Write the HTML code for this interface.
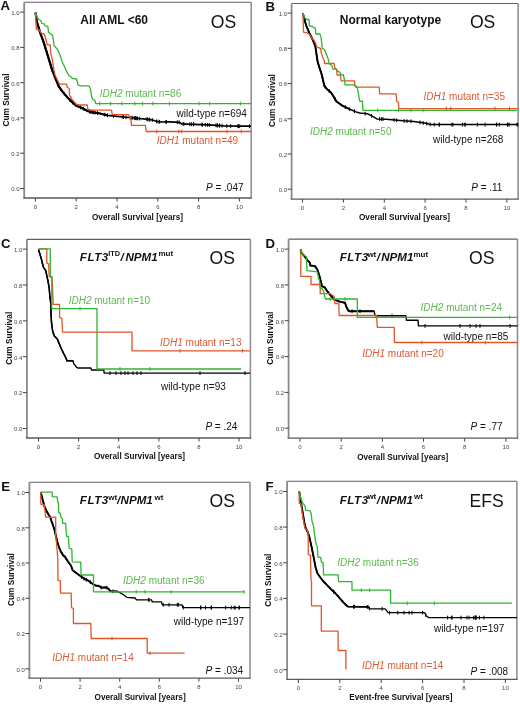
<!DOCTYPE html>
<html><head><meta charset="utf-8"><style>
html,body{margin:0;padding:0;background:#fff;}
svg{display:block;filter:blur(0.3px);font-family:"Liberation Sans",sans-serif;}
</style></head><body>
<svg width="520" height="704" viewBox="0 0 520 704">
<rect width="520" height="704" fill="#fff"/>
<line x1="24.2" y1="2.2" x2="251.2" y2="2.2" stroke="#606060" stroke-width="1.1"/>
<line x1="251.2" y1="2.2" x2="251.2" y2="198.0" stroke="#8a8a8a" stroke-width="1.5"/>
<line x1="24.2" y1="2.2" x2="24.2" y2="198.0" stroke="#8a8a8a" stroke-width="1.8"/>
<line x1="23.3" y1="198.0" x2="251.9" y2="198.0" stroke="#5a5a5a" stroke-width="1.3"/>
<line x1="20.2" y1="188.5" x2="24.2" y2="188.5" stroke="#444" stroke-width="1"/>
<text x="19.7" y="191.3" font-size="6" fill="#444" text-anchor="end">0.0</text>
<line x1="20.2" y1="153.2" x2="24.2" y2="153.2" stroke="#444" stroke-width="1"/>
<text x="19.7" y="156.0" font-size="6" fill="#444" text-anchor="end">0.2</text>
<line x1="20.2" y1="117.9" x2="24.2" y2="117.9" stroke="#444" stroke-width="1"/>
<text x="19.7" y="120.7" font-size="6" fill="#444" text-anchor="end">0.4</text>
<line x1="20.2" y1="82.7" x2="24.2" y2="82.7" stroke="#444" stroke-width="1"/>
<text x="19.7" y="85.5" font-size="6" fill="#444" text-anchor="end">0.6</text>
<line x1="20.2" y1="47.4" x2="24.2" y2="47.4" stroke="#444" stroke-width="1"/>
<text x="19.7" y="50.2" font-size="6" fill="#444" text-anchor="end">0.8</text>
<line x1="20.2" y1="12.1" x2="24.2" y2="12.1" stroke="#444" stroke-width="1"/>
<text x="19.7" y="14.9" font-size="6" fill="#444" text-anchor="end">1.0</text>
<line x1="35.4" y1="198.0" x2="35.4" y2="201.5" stroke="#444" stroke-width="1"/>
<text x="35.4" y="208.5" font-size="6" fill="#444" text-anchor="middle">0</text>
<line x1="76.2" y1="198.0" x2="76.2" y2="201.5" stroke="#444" stroke-width="1"/>
<text x="76.2" y="208.5" font-size="6" fill="#444" text-anchor="middle">2</text>
<line x1="117.0" y1="198.0" x2="117.0" y2="201.5" stroke="#444" stroke-width="1"/>
<text x="117.0" y="208.5" font-size="6" fill="#444" text-anchor="middle">4</text>
<line x1="157.8" y1="198.0" x2="157.8" y2="201.5" stroke="#444" stroke-width="1"/>
<text x="157.8" y="208.5" font-size="6" fill="#444" text-anchor="middle">6</text>
<line x1="198.6" y1="198.0" x2="198.6" y2="201.5" stroke="#444" stroke-width="1"/>
<text x="198.6" y="208.5" font-size="6" fill="#444" text-anchor="middle">8</text>
<line x1="239.4" y1="198.0" x2="239.4" y2="201.5" stroke="#444" stroke-width="1"/>
<text x="239.4" y="208.5" font-size="6" fill="#444" text-anchor="middle">10</text>
<line x1="291.6" y1="3.5" x2="518.1" y2="3.5" stroke="#606060" stroke-width="1.1"/>
<line x1="518.1" y1="3.5" x2="518.1" y2="199.1" stroke="#8a8a8a" stroke-width="1.5"/>
<line x1="291.6" y1="3.5" x2="291.6" y2="199.1" stroke="#8a8a8a" stroke-width="1.8"/>
<line x1="290.7" y1="199.1" x2="518.9" y2="199.1" stroke="#5a5a5a" stroke-width="1.3"/>
<line x1="287.6" y1="189.2" x2="291.6" y2="189.2" stroke="#444" stroke-width="1"/>
<text x="287.1" y="192.0" font-size="6" fill="#444" text-anchor="end">0.0</text>
<line x1="287.6" y1="154.0" x2="291.6" y2="154.0" stroke="#444" stroke-width="1"/>
<text x="287.1" y="156.8" font-size="6" fill="#444" text-anchor="end">0.2</text>
<line x1="287.6" y1="118.8" x2="291.6" y2="118.8" stroke="#444" stroke-width="1"/>
<text x="287.1" y="121.6" font-size="6" fill="#444" text-anchor="end">0.4</text>
<line x1="287.6" y1="83.5" x2="291.6" y2="83.5" stroke="#444" stroke-width="1"/>
<text x="287.1" y="86.3" font-size="6" fill="#444" text-anchor="end">0.6</text>
<line x1="287.6" y1="48.3" x2="291.6" y2="48.3" stroke="#444" stroke-width="1"/>
<text x="287.1" y="51.1" font-size="6" fill="#444" text-anchor="end">0.8</text>
<line x1="287.6" y1="13.1" x2="291.6" y2="13.1" stroke="#444" stroke-width="1"/>
<text x="287.1" y="15.9" font-size="6" fill="#444" text-anchor="end">1.0</text>
<line x1="302.5" y1="199.1" x2="302.5" y2="202.6" stroke="#444" stroke-width="1"/>
<text x="302.5" y="209.6" font-size="6" fill="#444" text-anchor="middle">0</text>
<line x1="343.4" y1="199.1" x2="343.4" y2="202.6" stroke="#444" stroke-width="1"/>
<text x="343.4" y="209.6" font-size="6" fill="#444" text-anchor="middle">2</text>
<line x1="384.3" y1="199.1" x2="384.3" y2="202.6" stroke="#444" stroke-width="1"/>
<text x="384.3" y="209.6" font-size="6" fill="#444" text-anchor="middle">4</text>
<line x1="425.1" y1="199.1" x2="425.1" y2="202.6" stroke="#444" stroke-width="1"/>
<text x="425.1" y="209.6" font-size="6" fill="#444" text-anchor="middle">6</text>
<line x1="466.0" y1="199.1" x2="466.0" y2="202.6" stroke="#444" stroke-width="1"/>
<text x="466.0" y="209.6" font-size="6" fill="#444" text-anchor="middle">8</text>
<line x1="506.9" y1="199.1" x2="506.9" y2="202.6" stroke="#444" stroke-width="1"/>
<text x="506.9" y="209.6" font-size="6" fill="#444" text-anchor="middle">10</text>
<line x1="26.9" y1="239.4" x2="250.4" y2="239.4" stroke="#606060" stroke-width="1.1"/>
<line x1="250.4" y1="239.4" x2="250.4" y2="438.0" stroke="#8a8a8a" stroke-width="1.5"/>
<line x1="26.9" y1="239.4" x2="26.9" y2="438.0" stroke="#8a8a8a" stroke-width="1.8"/>
<line x1="26.0" y1="438.0" x2="251.2" y2="438.0" stroke="#5a5a5a" stroke-width="1.3"/>
<line x1="22.9" y1="428.5" x2="26.9" y2="428.5" stroke="#444" stroke-width="1"/>
<text x="22.4" y="431.3" font-size="6" fill="#444" text-anchor="end">0.0</text>
<line x1="22.9" y1="392.6" x2="26.9" y2="392.6" stroke="#444" stroke-width="1"/>
<text x="22.4" y="395.4" font-size="6" fill="#444" text-anchor="end">0.2</text>
<line x1="22.9" y1="356.7" x2="26.9" y2="356.7" stroke="#444" stroke-width="1"/>
<text x="22.4" y="359.5" font-size="6" fill="#444" text-anchor="end">0.4</text>
<line x1="22.9" y1="320.9" x2="26.9" y2="320.9" stroke="#444" stroke-width="1"/>
<text x="22.4" y="323.7" font-size="6" fill="#444" text-anchor="end">0.6</text>
<line x1="22.9" y1="285.0" x2="26.9" y2="285.0" stroke="#444" stroke-width="1"/>
<text x="22.4" y="287.8" font-size="6" fill="#444" text-anchor="end">0.8</text>
<line x1="22.9" y1="249.1" x2="26.9" y2="249.1" stroke="#444" stroke-width="1"/>
<text x="22.4" y="251.9" font-size="6" fill="#444" text-anchor="end">1.0</text>
<line x1="38.5" y1="438.0" x2="38.5" y2="441.5" stroke="#444" stroke-width="1"/>
<text x="38.5" y="448.5" font-size="6" fill="#444" text-anchor="middle">0</text>
<line x1="78.6" y1="438.0" x2="78.6" y2="441.5" stroke="#444" stroke-width="1"/>
<text x="78.6" y="448.5" font-size="6" fill="#444" text-anchor="middle">2</text>
<line x1="118.7" y1="438.0" x2="118.7" y2="441.5" stroke="#444" stroke-width="1"/>
<text x="118.7" y="448.5" font-size="6" fill="#444" text-anchor="middle">4</text>
<line x1="158.9" y1="438.0" x2="158.9" y2="441.5" stroke="#444" stroke-width="1"/>
<text x="158.9" y="448.5" font-size="6" fill="#444" text-anchor="middle">6</text>
<line x1="199.0" y1="438.0" x2="199.0" y2="441.5" stroke="#444" stroke-width="1"/>
<text x="199.0" y="448.5" font-size="6" fill="#444" text-anchor="middle">8</text>
<line x1="239.1" y1="438.0" x2="239.1" y2="441.5" stroke="#444" stroke-width="1"/>
<text x="239.1" y="448.5" font-size="6" fill="#444" text-anchor="middle">10</text>
<line x1="288.6" y1="239.1" x2="517.5" y2="239.1" stroke="#606060" stroke-width="1.1"/>
<line x1="517.5" y1="239.1" x2="517.5" y2="438.2" stroke="#8a8a8a" stroke-width="1.5"/>
<line x1="288.6" y1="239.1" x2="288.6" y2="438.2" stroke="#8a8a8a" stroke-width="1.8"/>
<line x1="287.7" y1="438.2" x2="518.2" y2="438.2" stroke="#5a5a5a" stroke-width="1.3"/>
<line x1="284.6" y1="428.2" x2="288.6" y2="428.2" stroke="#444" stroke-width="1"/>
<text x="284.1" y="431.0" font-size="6" fill="#444" text-anchor="end">0.0</text>
<line x1="284.6" y1="392.4" x2="288.6" y2="392.4" stroke="#444" stroke-width="1"/>
<text x="284.1" y="395.2" font-size="6" fill="#444" text-anchor="end">0.2</text>
<line x1="284.6" y1="356.6" x2="288.6" y2="356.6" stroke="#444" stroke-width="1"/>
<text x="284.1" y="359.4" font-size="6" fill="#444" text-anchor="end">0.4</text>
<line x1="284.6" y1="320.7" x2="288.6" y2="320.7" stroke="#444" stroke-width="1"/>
<text x="284.1" y="323.5" font-size="6" fill="#444" text-anchor="end">0.6</text>
<line x1="284.6" y1="284.9" x2="288.6" y2="284.9" stroke="#444" stroke-width="1"/>
<text x="284.1" y="287.7" font-size="6" fill="#444" text-anchor="end">0.8</text>
<line x1="284.6" y1="249.1" x2="288.6" y2="249.1" stroke="#444" stroke-width="1"/>
<text x="284.1" y="251.9" font-size="6" fill="#444" text-anchor="end">1.0</text>
<line x1="300.0" y1="438.2" x2="300.0" y2="441.7" stroke="#444" stroke-width="1"/>
<text x="300.0" y="448.7" font-size="6" fill="#444" text-anchor="middle">0</text>
<line x1="341.2" y1="438.2" x2="341.2" y2="441.7" stroke="#444" stroke-width="1"/>
<text x="341.2" y="448.7" font-size="6" fill="#444" text-anchor="middle">2</text>
<line x1="382.4" y1="438.2" x2="382.4" y2="441.7" stroke="#444" stroke-width="1"/>
<text x="382.4" y="448.7" font-size="6" fill="#444" text-anchor="middle">4</text>
<line x1="423.5" y1="438.2" x2="423.5" y2="441.7" stroke="#444" stroke-width="1"/>
<text x="423.5" y="448.7" font-size="6" fill="#444" text-anchor="middle">6</text>
<line x1="464.7" y1="438.2" x2="464.7" y2="441.7" stroke="#444" stroke-width="1"/>
<text x="464.7" y="448.7" font-size="6" fill="#444" text-anchor="middle">8</text>
<line x1="505.9" y1="438.2" x2="505.9" y2="441.7" stroke="#444" stroke-width="1"/>
<text x="505.9" y="448.7" font-size="6" fill="#444" text-anchor="middle">10</text>
<line x1="29.4" y1="482.2" x2="250.0" y2="482.2" stroke="#606060" stroke-width="1.1"/>
<line x1="250.0" y1="482.2" x2="250.0" y2="678.2" stroke="#8a8a8a" stroke-width="1.5"/>
<line x1="29.4" y1="482.2" x2="29.4" y2="678.2" stroke="#8a8a8a" stroke-width="1.8"/>
<line x1="28.5" y1="678.2" x2="250.8" y2="678.2" stroke="#5a5a5a" stroke-width="1.3"/>
<line x1="25.4" y1="668.8" x2="29.4" y2="668.8" stroke="#444" stroke-width="1"/>
<text x="24.9" y="671.6" font-size="6" fill="#444" text-anchor="end">0.0</text>
<line x1="25.4" y1="633.5" x2="29.4" y2="633.5" stroke="#444" stroke-width="1"/>
<text x="24.9" y="636.3" font-size="6" fill="#444" text-anchor="end">0.2</text>
<line x1="25.4" y1="598.3" x2="29.4" y2="598.3" stroke="#444" stroke-width="1"/>
<text x="24.9" y="601.1" font-size="6" fill="#444" text-anchor="end">0.4</text>
<line x1="25.4" y1="563.0" x2="29.4" y2="563.0" stroke="#444" stroke-width="1"/>
<text x="24.9" y="565.8" font-size="6" fill="#444" text-anchor="end">0.6</text>
<line x1="25.4" y1="527.8" x2="29.4" y2="527.8" stroke="#444" stroke-width="1"/>
<text x="24.9" y="530.6" font-size="6" fill="#444" text-anchor="end">0.8</text>
<line x1="25.4" y1="492.5" x2="29.4" y2="492.5" stroke="#444" stroke-width="1"/>
<text x="24.9" y="495.3" font-size="6" fill="#444" text-anchor="end">1.0</text>
<line x1="40.5" y1="678.2" x2="40.5" y2="681.7" stroke="#444" stroke-width="1"/>
<text x="40.5" y="688.7" font-size="6" fill="#444" text-anchor="middle">0</text>
<line x1="80.1" y1="678.2" x2="80.1" y2="681.7" stroke="#444" stroke-width="1"/>
<text x="80.1" y="688.7" font-size="6" fill="#444" text-anchor="middle">2</text>
<line x1="119.7" y1="678.2" x2="119.7" y2="681.7" stroke="#444" stroke-width="1"/>
<text x="119.7" y="688.7" font-size="6" fill="#444" text-anchor="middle">4</text>
<line x1="159.3" y1="678.2" x2="159.3" y2="681.7" stroke="#444" stroke-width="1"/>
<text x="159.3" y="688.7" font-size="6" fill="#444" text-anchor="middle">6</text>
<line x1="198.9" y1="678.2" x2="198.9" y2="681.7" stroke="#444" stroke-width="1"/>
<text x="198.9" y="688.7" font-size="6" fill="#444" text-anchor="middle">8</text>
<line x1="238.5" y1="678.2" x2="238.5" y2="681.7" stroke="#444" stroke-width="1"/>
<text x="238.5" y="688.7" font-size="6" fill="#444" text-anchor="middle">10</text>
<line x1="287.1" y1="481.2" x2="516.9" y2="481.2" stroke="#606060" stroke-width="1.1"/>
<line x1="516.9" y1="481.2" x2="516.9" y2="679.4" stroke="#8a8a8a" stroke-width="1.5"/>
<line x1="287.1" y1="481.2" x2="287.1" y2="679.4" stroke="#8a8a8a" stroke-width="1.8"/>
<line x1="286.2" y1="679.4" x2="517.6" y2="679.4" stroke="#5a5a5a" stroke-width="1.3"/>
<line x1="283.1" y1="669.7" x2="287.1" y2="669.7" stroke="#444" stroke-width="1"/>
<text x="282.6" y="672.5" font-size="6" fill="#444" text-anchor="end">0.0</text>
<line x1="283.1" y1="634.1" x2="287.1" y2="634.1" stroke="#444" stroke-width="1"/>
<text x="282.6" y="636.9" font-size="6" fill="#444" text-anchor="end">0.2</text>
<line x1="283.1" y1="598.4" x2="287.1" y2="598.4" stroke="#444" stroke-width="1"/>
<text x="282.6" y="601.2" font-size="6" fill="#444" text-anchor="end">0.4</text>
<line x1="283.1" y1="562.8" x2="287.1" y2="562.8" stroke="#444" stroke-width="1"/>
<text x="282.6" y="565.6" font-size="6" fill="#444" text-anchor="end">0.6</text>
<line x1="283.1" y1="527.1" x2="287.1" y2="527.1" stroke="#444" stroke-width="1"/>
<text x="282.6" y="529.9" font-size="6" fill="#444" text-anchor="end">0.8</text>
<line x1="283.1" y1="491.5" x2="287.1" y2="491.5" stroke="#444" stroke-width="1"/>
<text x="282.6" y="494.3" font-size="6" fill="#444" text-anchor="end">1.0</text>
<line x1="298.4" y1="679.4" x2="298.4" y2="682.9" stroke="#444" stroke-width="1"/>
<text x="298.4" y="689.9" font-size="6" fill="#444" text-anchor="middle">0</text>
<line x1="339.8" y1="679.4" x2="339.8" y2="682.9" stroke="#444" stroke-width="1"/>
<text x="339.8" y="689.9" font-size="6" fill="#444" text-anchor="middle">2</text>
<line x1="381.2" y1="679.4" x2="381.2" y2="682.9" stroke="#444" stroke-width="1"/>
<text x="381.2" y="689.9" font-size="6" fill="#444" text-anchor="middle">4</text>
<line x1="422.6" y1="679.4" x2="422.6" y2="682.9" stroke="#444" stroke-width="1"/>
<text x="422.6" y="689.9" font-size="6" fill="#444" text-anchor="middle">6</text>
<line x1="464.0" y1="679.4" x2="464.0" y2="682.9" stroke="#444" stroke-width="1"/>
<text x="464.0" y="689.9" font-size="6" fill="#444" text-anchor="middle">8</text>
<line x1="505.4" y1="679.4" x2="505.4" y2="682.9" stroke="#444" stroke-width="1"/>
<text x="505.4" y="689.9" font-size="6" fill="#444" text-anchor="middle">10</text>
<polyline points="35.5,12.6 36.9,21.8 40.4,33.4 43.8,42.6 47.3,54.1 50.2,63.4 51.9,69.2 55.0,77.3 58.8,86.5 62.7,91.9 67.3,97.3 71.9,101.9 76.5,105.8 81.9,108.0 88.1,111.2 95.0,112.7 100.0,113.5 107.7,115.4 115.4,116.2 123.0,117.0 130.8,117.7 138.5,118.5 146.2,119.2 152.3,120.0 157.0,121.5 161.5,122.0 170.0,121.8 179.2,122.3 181.5,123.8 193.0,124.3 208.5,124.9 223.8,125.8 239.2,126.2 251.0,126.2" fill="none" stroke="#000" stroke-width="1.7" stroke-linejoin="round"/>
<polyline points="35.5,12.6 36.9,21.8 40.4,33.4 43.8,42.6 47.3,54.1 50.2,63.4 51.9,69.2 55.0,77.3 58.8,86.5 62.7,91.9 67.3,97.3 71.9,101.9 76.5,105.8 81.9,108.0 88.1,111.2 95.0,112.7 100.0,113.5 107.7,115.4" fill="none" stroke="#000" stroke-width="2.2" stroke-linejoin="round"/>
<path d="M45.4,46.1V49.9M49.4,59.0V62.8M50.2,61.6V65.4M50.8,63.7V67.5M51.0,64.2V68.0M51.3,65.3V69.1M52.1,67.9V71.7M64.3,91.9V95.7M69.9,98.0V101.8M72.7,100.7V104.5M80.6,105.6V109.4M83.3,106.8V110.6M89.6,109.6V113.4M90.1,109.7V113.5M90.7,109.9V113.7M92.1,110.2V114.0M92.6,110.3V114.1M93.0,110.4V114.2M95.0,110.8V114.6M97.5,111.2V115.0M104.7,112.8V116.6M107.5,113.4V117.2M113.5,114.1V117.9M122.2,115.0V118.8M123.5,115.1V118.9M126.0,115.4V119.2M130.3,115.8V119.6M132.0,115.9V119.7M132.0,115.9V119.7M134.2,116.1V119.9M135.2,116.3V120.1M135.4,116.3V120.1M136.7,116.4V120.2M137.6,116.5V120.3M139.7,116.7V120.5M147.1,117.4V121.2M147.1,117.4V121.2M149.1,117.7V121.5M149.7,117.8V121.6M152.3,118.1V121.9M156.5,119.5V123.3M158.1,119.7V123.5M159.6,119.9V123.7M166.0,120.0V123.8M166.3,120.0V123.8M177.3,120.3V124.1M179.2,120.4V124.2M183.1,122.0V125.8M183.9,122.0V125.8M189.8,122.3V126.1M191.5,122.3V126.1M193.6,122.4V126.2M193.6,122.4V126.2M202.0,122.7V126.5M202.3,122.8V126.6M205.4,122.9V126.7M207.5,123.0V126.8M209.3,123.0V126.8M216.0,123.4V127.2M217.2,123.5V127.3M217.5,123.5V127.3M219.3,123.6V127.4M219.6,123.7V127.5M222.1,123.8V127.6M226.8,124.0V127.8M230.7,124.1V127.9M237.9,124.3V128.1M238.5,124.3V128.1M239.7,124.3V128.1M249.5,124.3V128.1" stroke="#000" stroke-width="1" fill="none"/>
<polyline points="35.5,12.6 36.3,29.3 39.2,29.9 41.5,33.4 44.4,34.0 47.3,44.9 50.2,44.9 50.8,54.1 52.5,59.9 53.6,68.0 55.0,75.0 57.7,80.5 59.6,84.2 66.5,84.2 67.3,87.3 69.2,88.5 69.6,95.8 71.2,97.3 71.5,98.8 76.5,104.5 80.4,105.0 87.3,105.0 87.7,108.8 89.6,110.2 111.5,110.2 112.3,114.6 128.5,114.6 129.2,116.9 130.8,116.9 131.5,125.4 145.4,125.4 146.2,131.5 251.0,131.5" fill="none" stroke="#e2542a" stroke-width="1.3" stroke-linejoin="round"/>
<path d="M156.7,129.6V133.4M178.8,129.6V133.4M181.7,129.6V133.4M226.9,129.6V133.4M241.3,129.6V133.4" stroke="#e2542a" stroke-width="1" fill="none"/>
<polyline points="35.5,12.6 38.1,19.0 41.0,20.7 41.5,23.0 44.4,24.1 45.0,25.9 47.9,26.5 48.5,32.2 52.5,35.1 53.0,38.0 54.2,46.0 57.7,49.5 60.0,55.3 62.3,62.2 64.6,66.8 66.0,70.0 68.5,75.0 70.4,76.5 72.7,78.5 76.5,78.8 78.1,85.0 80.4,85.8 88.8,85.8 90.4,88.8 91.5,95.8 92.7,99.6 94.6,99.8 95.7,103.6 251.0,103.6" fill="none" stroke="#2fb52f" stroke-width="1.3" stroke-linejoin="round"/>
<path d="M99.8,101.7V105.5M110.6,101.7V105.5M121.8,101.7V105.5M134.8,101.7V105.5M142.6,101.7V105.5M152.9,101.7V105.5M169.4,101.7V105.5M199.0,101.7V105.5M209.6,101.7V105.5M240.4,101.7V105.5" stroke="#2fb52f" stroke-width="1" fill="none"/>
<polyline points="302.8,13.2 306.1,25.3 309.5,33.4 313.0,40.3 315.3,46.1 316.5,54.1 317.5,61.0 319.2,66.9 321.5,73.8 324.4,86.0 327.3,89.4 330.8,92.3 333.1,95.8 336.5,101.5 342.3,105.6 349.2,109.0 356.1,111.9 359.6,113.0 367.7,113.8 372.3,116.2 376.9,118.9 386.2,119.2 403.1,120.8 413.8,121.5 424.6,123.1 430.8,124.6 518.0,124.6" fill="none" stroke="#000" stroke-width="1.5" stroke-linejoin="round"/>
<polyline points="302.8,13.2 306.1,25.3 309.5,33.4 313.0,40.3 315.3,46.1 316.5,54.1 317.5,61.0 319.2,66.9 321.5,73.8 324.4,86.0 327.3,89.4 330.8,92.3 333.1,95.8 336.5,101.5 342.3,105.6 349.2,109.0" fill="none" stroke="#000" stroke-width="1.9" stroke-linejoin="round"/>
<path d="M322.8,77.2V81.0M323.5,80.3V84.1M325.2,85.0V88.8M329.3,89.2V93.0M335.0,97.0V100.8M345.3,105.2V109.0M349.7,107.3V111.1M354.4,109.3V113.1M365.2,111.7V115.5M371.6,114.0V117.8M379.6,117.1V120.9M381.7,117.2V121.0M383.0,117.2V121.0M394.0,118.0V121.8M396.7,118.3V122.1M404.1,119.0V122.8M407.0,119.2V123.0M411.0,119.4V123.2M420.0,120.5V124.3M423.2,121.0V124.8M426.8,121.7V125.5M430.1,122.5V126.3M434.2,122.7V126.5M439.2,122.7V126.5M439.4,122.7V126.5M451.9,122.7V126.5M452.9,122.7V126.5M462.6,122.7V126.5M464.9,122.7V126.5M465.2,122.7V126.5M477.4,122.7V126.5M485.1,122.7V126.5M496.4,122.7V126.5M496.7,122.7V126.5M499.3,122.7V126.5M507.6,122.7V126.5M507.9,122.7V126.5M509.2,122.7V126.5M517.0,122.7V126.5M517.7,122.7V126.5" stroke="#000" stroke-width="1" fill="none"/>
<polyline points="302.8,13.2 303.2,20.7 303.5,32.2 307.2,32.8 309.5,34.5 311.8,38.0 313.6,39.7 315.3,42.6 317.0,47.2 320.5,48.4 321.6,54.1 322.8,57.6 324.4,61.1 324.4,63.5 334.2,63.5 334.8,68.1 336.5,69.2 337.1,75.0 340.6,75.0 341.1,80.8 354.4,80.8 355.0,86.0 356.1,87.2 379.2,87.2 379.7,93.8 396.2,93.8 396.6,101.5 398.5,102.3 398.8,108.6 518.0,108.6" fill="none" stroke="#e2542a" stroke-width="1.3" stroke-linejoin="round"/>
<path d="M446.4,106.7V110.5M450.8,106.7V110.5M494.9,106.7V110.5M509.6,106.7V110.5" stroke="#e2542a" stroke-width="1" fill="none"/>
<polyline points="302.8,13.2 304.3,17.2 306.7,19.5 309.0,19.5 309.5,25.9 312.4,26.5 313.6,27.6 315.3,28.2 315.9,34.0 319.9,34.0 321.1,37.4 321.6,42.6 322.2,48.4 324.5,49.5 326.8,55.3 328.5,60.0 329.0,63.5 331.9,65.8 333.1,69.2 336.5,69.2 337.7,71.5 340.0,72.1 340.6,74.4 343.4,75.0 344.6,80.8 345.2,84.8 353.8,84.8 356.1,86.0 357.3,87.7 358.4,93.4 359.6,101.0 362.5,101.5 363.0,110.4 518.0,110.4" fill="none" stroke="#2fb52f" stroke-width="1.3" stroke-linejoin="round"/>
<path d="M377.7,108.5V112.3M398.5,108.5V112.3M410.8,108.5V112.3M423.0,108.5V112.3" stroke="#2fb52f" stroke-width="1" fill="none"/>
<polyline points="38.5,249.5 41.1,258.0 43.4,267.2 45.7,270.7 48.0,281.1 49.2,288.0 49.8,295.8 51.0,305.0 51.0,313.1 51.5,322.3 52.7,331.5 54.4,336.1 57.3,339.0 59.0,343.1 61.0,348.0 63.8,353.8 66.2,358.5 66.9,360.8 73.1,360.8 73.8,363.8 76.2,366.9 77.7,368.0 90.8,368.0 91.5,370.0 103.8,370.0 104.2,373.1 250.0,373.1" fill="none" stroke="#000" stroke-width="1.4" stroke-linejoin="round"/>
<polyline points="38.5,249.5 41.1,258.0 43.4,267.2 45.7,270.7 48.0,281.1 49.2,288.0 49.8,295.8 51.0,305.0 51.0,313.1 51.5,322.3 52.7,331.5 54.4,336.1 57.3,339.0 59.0,343.1 61.0,348.0 63.8,353.8 66.2,358.5 66.9,360.8 73.1,360.8" fill="none" stroke="#000" stroke-width="1.5" stroke-linejoin="round"/>
<path d="M110.0,371.2V375.0M116.0,371.2V375.0M121.0,371.2V375.0M125.0,371.2V375.0M128.0,371.2V375.0M133.0,371.2V375.0M137.0,371.2V375.0M141.0,371.2V375.0M200.0,371.2V375.0M245.0,371.2V375.0" stroke="#000" stroke-width="1" fill="none"/>
<polyline points="38.5,248.8 46.8,248.8 46.8,263.2 48.6,263.8 49.2,276.4 52.0,277.0 52.6,288.0 53.2,304.4 59.6,304.4 59.6,317.7 61.9,318.3 62.5,332.1 132.0,332.1 132.0,350.8 250.0,350.8" fill="none" stroke="#e2542a" stroke-width="1.3" stroke-linejoin="round"/>
<path d="M180.0,348.9V352.7M242.5,348.9V352.7" stroke="#e2542a" stroke-width="1" fill="none"/>
<polyline points="38.5,248.8 50.3,248.8 50.3,277.0 51.8,277.0 51.8,308.7 97.0,308.7 97.0,369.0 241.3,369.0" fill="none" stroke="#2fb52f" stroke-width="1.3" stroke-linejoin="round"/>
<path d="M80.0,306.8V310.6M120.0,367.1V370.9M150.0,367.1V370.9" stroke="#2fb52f" stroke-width="1" fill="none"/>
<polyline points="300.8,249.3 300.8,252.2 304.1,255.7 307.5,260.3 309.8,262.6 310.4,265.5 315.0,266.1 317.3,269.5 319.1,274.7 320.8,281.1 322.0,286.3 324.8,287.4 326.6,290.3 329.6,294.2 334.2,299.6 340.4,301.9 345.0,302.7 346.5,307.3 348.8,311.2 374.2,311.2 375.0,315.7 405.8,315.7 406.5,320.3 418.0,320.3 418.5,325.9 517.5,325.9" fill="none" stroke="#000" stroke-width="1.4" stroke-linejoin="round"/>
<polyline points="300.8,249.3 300.8,252.2 304.1,255.7 307.5,260.3 309.8,262.6 310.4,265.5 315.0,266.1 317.3,269.5 319.1,274.7 320.8,281.1 322.0,286.3 324.8,287.4 326.6,290.3 329.6,294.2 334.2,299.6 340.4,301.9 345.0,302.7 346.5,307.3 348.8,311.2 374.2,311.2" fill="none" stroke="#000" stroke-width="1.9" stroke-linejoin="round"/>
<path d="M352.0,309.3V313.1M360.0,309.3V313.1M392.0,313.8V317.6M425.0,324.0V327.8M460.0,324.0V327.8M470.0,324.0V327.8M476.0,324.0V327.8M480.0,324.0V327.8M510.0,324.0V327.8" stroke="#000" stroke-width="1" fill="none"/>
<polyline points="300.8,249.3 300.8,276.4 311.0,276.4 311.0,284.5 320.2,284.5 320.2,293.7 330.4,293.7 334.2,296.5 335.0,303.5 338.8,303.5 339.2,315.5 376.5,315.5 377.3,327.3 394.2,327.3 394.5,342.5 517.5,342.5" fill="none" stroke="#e2542a" stroke-width="1.3" stroke-linejoin="round"/>
<path d="M421.9,340.6V344.4M485.4,340.6V344.4" stroke="#e2542a" stroke-width="1" fill="none"/>
<polyline points="300.8,249.3 302.9,254.5 306.4,256.8 307.0,270.7 313.3,271.3 317.3,271.8 318.5,277.6 319.6,281.1 320.2,288.0 322.5,289.1 323.7,291.4 324.8,296.6 325.4,299.0 357.3,299.0 357.3,317.4 517.5,317.4" fill="none" stroke="#2fb52f" stroke-width="1.3" stroke-linejoin="round"/>
<path d="M509.7,315.5V319.3M345.0,297.1V300.9M330.0,297.1V300.9" stroke="#2fb52f" stroke-width="1" fill="none"/>
<polyline points="40.8,492.3 42.6,499.5 44.2,505.7 46.5,511.1 48.8,514.9 50.3,517.2 51.5,521.1 53.0,525.2 54.2,529.0 55.7,535.0 57.2,541.5 58.8,546.5 60.3,550.4 62.6,554.5 65.7,557.8 68.0,561.5 71.1,565.8 72.6,570.2 74.9,571.9 78.0,574.2 81.1,576.5 84.2,578.8 88.0,580.4 91.1,582.7 93.1,584.2 96.2,585.8 98.5,585.8 101.5,587.7 106.2,587.3 108.5,588.8 110.4,591.2 117.7,591.5 120.8,593.1 123.8,595.0 126.9,597.3 135.0,598.0 136.5,599.8 151.5,599.8 152.3,601.9 161.5,601.9 162.3,604.8 182.0,604.8 182.8,607.6 250.0,607.6" fill="none" stroke="#000" stroke-width="1.3" stroke-linejoin="round"/>
<polyline points="40.8,492.3 42.6,499.5 44.2,505.7 46.5,511.1 48.8,514.9 50.3,517.2 51.5,521.1 53.0,525.2 54.2,529.0 55.7,535.0 57.2,541.5 58.8,546.5 60.3,550.4 62.6,554.5 65.7,557.8 68.0,561.5 71.1,565.8 72.6,570.2 74.9,571.9 78.0,574.2 81.1,576.5 84.2,578.8 88.0,580.4 91.1,582.7 93.1,584.2 96.2,585.8 98.5,585.8 101.5,587.7 106.2,587.3 108.5,588.8 110.4,591.2 117.7,591.5" fill="none" stroke="#000" stroke-width="1.9" stroke-linejoin="round"/>
<path d="M60.3,548.6V552.4M62.5,552.4V556.2M65.5,555.7V559.5M81.5,574.9V578.7M84.1,576.8V580.6M86.4,577.8V581.6M90.3,580.2V584.0M101.2,585.6V589.4M106.8,585.8V589.6M113.1,589.4V593.2M148.5,597.9V601.7M149.1,597.9V601.7M163.3,602.9V606.7M169.0,602.9V606.7M177.3,602.9V606.7M178.4,602.9V606.7M183.3,605.7V609.5M200.6,605.7V609.5M200.9,605.7V609.5M205.5,605.7V609.5M211.1,605.7V609.5M211.5,605.7V609.5M225.6,605.7V609.5M231.2,605.7V609.5M234.1,605.7V609.5M235.2,605.7V609.5M239.1,605.7V609.5M239.2,605.7V609.5" stroke="#000" stroke-width="1" fill="none"/>
<polyline points="40.8,492.2 40.8,504.2 42.6,504.5 44.2,504.9 45.7,517.2 55.7,517.2 55.7,535.0 56.5,543.1 57.2,550.8 57.8,560.0 58.0,580.4 60.3,580.6 60.5,593.1 71.2,593.1 71.5,607.7 73.4,608.5 73.4,623.5 90.8,623.5 91.2,638.5 147.2,638.5 147.2,653.1 184.6,653.1" fill="none" stroke="#e2542a" stroke-width="1.3" stroke-linejoin="round"/>
<path d="M112.0,636.6V640.4M150.0,651.2V655.0" stroke="#e2542a" stroke-width="1" fill="none"/>
<polyline points="40.8,492.2 52.2,492.2 52.2,496.6 57.2,496.8 57.6,501.8 58.4,502.6 58.8,512.6 60.3,513.4 61.1,518.0 62.4,518.8 62.6,523.1 65.7,523.5 66.1,530.0 66.5,536.2 68.4,536.5 68.8,543.1 69.2,548.3 71.8,548.8 72.2,561.9 80.7,562.2 81.1,575.0 93.5,575.0 93.5,591.9 244.5,591.9" fill="none" stroke="#2fb52f" stroke-width="1.3" stroke-linejoin="round"/>
<path d="M136.2,590.0V593.8M145.0,590.0V593.8M171.2,590.0V593.8M244.0,590.0V593.8" stroke="#2fb52f" stroke-width="1" fill="none"/>
<polyline points="299.2,491.2 300.9,502.1 302.7,512.5 304.4,522.9 305.5,527.5 307.8,532.1 309.6,537.9 311.5,546.5 313.8,558.1 315.6,567.3 317.3,573.1 320.3,577.5 323.5,581.5 327.3,585.3 331.1,589.4 335.2,593.0 339.2,597.7 343.5,602.5 347.3,606.3 348.7,606.6 367.9,606.9 369.8,608.8 385.2,608.8 388.1,612.7 424.6,612.7 426.2,615.8 428.5,617.6 517.0,617.6" fill="none" stroke="#000" stroke-width="1.3" stroke-linejoin="round"/>
<polyline points="299.2,491.2 300.9,502.1 302.7,512.5 304.4,522.9 305.5,527.5 307.8,532.1 309.6,537.9 311.5,546.5 313.8,558.1 315.6,567.3 317.3,573.1 320.3,577.5 323.5,581.5 327.3,585.3 331.1,589.4 335.2,593.0 339.2,597.7 343.5,602.5 347.3,606.3 348.7,606.6 367.9,606.9" fill="none" stroke="#000" stroke-width="1.9" stroke-linejoin="round"/>
<path d="M315.1,562.8V566.6M333.6,589.7V593.5M333.8,589.8V593.6M353.6,604.8V608.6M354.4,604.8V608.6M367.3,605.0V608.8M368.1,605.2V609.0M369.5,606.6V610.4M382.1,606.9V610.7M389.6,610.8V614.6M397.8,610.8V614.6M404.0,610.8V614.6M409.1,610.8V614.6M412.0,610.8V614.6M422.7,610.8V614.6M425.7,613.0V616.8M447.6,615.7V619.5M451.4,615.7V619.5M452.1,615.7V619.5M461.0,615.7V619.5M466.9,615.7V619.5M469.0,615.7V619.5M473.7,615.7V619.5M475.1,615.7V619.5M475.4,615.7V619.5M475.7,615.7V619.5M476.0,615.7V619.5M476.0,615.7V619.5M479.4,615.7V619.5M483.9,615.7V619.5" stroke="#000" stroke-width="1" fill="none"/>
<polyline points="299.2,491.2 299.2,503.3 300.9,503.3 303.2,519.4 305.0,528.7 307.3,529.8 307.8,532.1 308.2,535.0 308.3,554.6 310.4,555.2 311.0,580.0 311.5,581.1 311.5,605.8 321.3,605.8 321.3,631.1 338.1,631.1 338.1,650.5 345.9,650.5 345.9,669.6" fill="none" stroke="#e2542a" stroke-width="1.3" stroke-linejoin="round"/>
<polyline points="299.2,491.2 300.9,498.7 302.7,503.3 305.0,505.6 305.5,510.2 310.1,510.8 311.3,514.3 311.9,520.6 313.6,526.4 314.2,532.1 315.3,539.1 316.1,544.2 317.3,546.5 317.9,556.9 320.8,557.5 321.3,562.1 323.1,562.7 323.6,574.8 338.1,574.8 338.6,581.7 352.0,581.7 352.0,590.2 390.6,590.2 390.6,603.2 511.8,603.2" fill="none" stroke="#2fb52f" stroke-width="1.3" stroke-linejoin="round"/>
<path d="M361.4,588.3V592.1M369.6,588.3V592.1M407.2,601.3V605.1M434.3,601.3V605.1" stroke="#2fb52f" stroke-width="1" fill="none"/>
<text x="0.5" y="10.4" font-size="13.2" fill="#111"><tspan font-weight="bold">A</tspan></text>
<text x="265.6" y="10.7" font-size="13.2" fill="#111"><tspan font-weight="bold">B</tspan></text>
<text x="1.0" y="248.0" font-size="13.2" fill="#111"><tspan font-weight="bold">C</tspan></text>
<text x="265.6" y="248.0" font-size="13.2" fill="#111"><tspan font-weight="bold">D</tspan></text>
<text x="1.3" y="490.5" font-size="13.2" fill="#111"><tspan font-weight="bold">E</tspan></text>
<text x="265.6" y="490.5" font-size="13.2" fill="#111"><tspan font-weight="bold">F</tspan></text>
<text x="80.3" y="23.5" font-size="12" fill="#111"><tspan font-weight="bold">All AML &lt;60</tspan></text>
<text x="339.8" y="23.6" font-size="12" fill="#111"><tspan font-weight="bold">Normal karyotype</tspan></text>
<text x="210.8" y="27.7" font-size="17.6" fill="#111"><tspan>OS</tspan></text>
<text x="469.9" y="27.9" font-size="17.6" fill="#111"><tspan>OS</tspan></text>
<text x="209.6" y="264.4" font-size="17.6" fill="#111"><tspan>OS</tspan></text>
<text x="469.1" y="264.4" font-size="17.6" fill="#111"><tspan>OS</tspan></text>
<text x="209.6" y="506.9" font-size="17.6" fill="#111"><tspan>OS</tspan></text>
<text x="469.6" y="506.6" font-size="17.6" fill="#111"><tspan>EFS</tspan></text>
<text x="99.8" y="96.6" font-size="10" fill="#5dba4f"><tspan font-style="italic">IDH2</tspan><tspan> mutant n=86</tspan></text>
<text x="176.5" y="116.6" font-size="10" fill="#111"><tspan>wild-type n=694</tspan></text>
<text x="156.7" y="143.6" font-size="10" fill="#db5b36"><tspan font-style="italic">IDH1</tspan><tspan> mutant n=49</tspan></text>
<text x="423.5" y="100.0" font-size="10" fill="#db5b36"><tspan font-style="italic">IDH1</tspan><tspan> mutant n=35</tspan></text>
<text x="310.0" y="135.4" font-size="10" fill="#5dba4f"><tspan font-style="italic">IDH2</tspan><tspan> mutant n=50</tspan></text>
<text x="433.0" y="142.7" font-size="10" fill="#111"><tspan>wild-type n=268</tspan></text>
<text x="68.7" y="304.3" font-size="10" fill="#5dba4f"><tspan font-style="italic">IDH2</tspan><tspan> mutant n=10</tspan></text>
<text x="160.0" y="346.0" font-size="10" fill="#db5b36"><tspan font-style="italic">IDH1</tspan><tspan> mutant n=13</tspan></text>
<text x="161.0" y="390.1" font-size="10" fill="#111"><tspan>wild-type n=93</tspan></text>
<text x="420.6" y="311.3" font-size="10" fill="#5dba4f"><tspan font-style="italic">IDH2</tspan><tspan> mutant n=24</tspan></text>
<text x="443.5" y="339.6" font-size="10" fill="#111"><tspan>wild-type n=85</tspan></text>
<text x="362.3" y="357.2" font-size="10" fill="#db5b36"><tspan font-style="italic">IDH1</tspan><tspan> mutant n=20</tspan></text>
<text x="123.1" y="583.8" font-size="10" fill="#5dba4f"><tspan font-style="italic">IDH2</tspan><tspan> mutant n=36</tspan></text>
<text x="173.7" y="625.4" font-size="10" fill="#111"><tspan>wild-type n=197</tspan></text>
<text x="52.3" y="661.0" font-size="10" fill="#db5b36"><tspan font-style="italic">IDH1</tspan><tspan> mutant n=14</tspan></text>
<text x="337.3" y="566.1" font-size="10" fill="#5dba4f"><tspan font-style="italic">IDH2</tspan><tspan> mutant n=36</tspan></text>
<text x="434.0" y="632.0" font-size="10" fill="#111"><tspan>wild-type n=197</tspan></text>
<text x="361.9" y="668.6" font-size="10" fill="#db5b36"><tspan font-style="italic">IDH1</tspan><tspan> mutant n=14</tspan></text>
<text x="206.0" y="191.0" font-size="10" fill="#111"><tspan font-style="italic">P</tspan><tspan> = .047</tspan></text>
<text x="471.2" y="190.5" font-size="10" fill="#111"><tspan font-style="italic">P</tspan><tspan> = .11</tspan></text>
<text x="205.4" y="429.8" font-size="10" fill="#111"><tspan font-style="italic">P</tspan><tspan> = .24</tspan></text>
<text x="470.6" y="429.8" font-size="10" fill="#111"><tspan font-style="italic">P</tspan><tspan> = .77</tspan></text>
<text x="205.6" y="673.5" font-size="10" fill="#111"><tspan font-style="italic">P</tspan><tspan> = .034</tspan></text>
<text x="470.6" y="675.0" font-size="10" fill="#111"><tspan font-style="italic">P</tspan><tspan> = .008</tspan></text>
<text x="92.0" y="219.7" font-size="8.2" fill="#111"><tspan font-weight="bold">Overall Survival [years]</tspan></text>
<text x="359.0" y="220.4" font-size="8.2" fill="#111"><tspan font-weight="bold">Overall Survival [years]</tspan></text>
<text x="93.9" y="459.1" font-size="8.2" fill="#111"><tspan font-weight="bold">Overall Survival [years]</tspan></text>
<text x="357.2" y="459.6" font-size="8.2" fill="#111"><tspan font-weight="bold">Overall Survival [years]</tspan></text>
<text x="94.6" y="700.0" font-size="8.2" fill="#111"><tspan font-weight="bold">Overall Survival [years]</tspan></text>
<text x="349.3" y="699.7" font-size="8.2" fill="#111"><tspan font-weight="bold">Event-free Survival [years]</tspan></text>
<text transform="translate(8.5,126.5) rotate(-90)" font-size="8.3" font-weight="bold" fill="#111">Cum Survival</text>
<text transform="translate(275.3,127.1) rotate(-90)" font-size="8.3" font-weight="bold" fill="#111">Cum Survival</text>
<text transform="translate(11.8,364.8) rotate(-90)" font-size="8.3" font-weight="bold" fill="#111">Cum Survival</text>
<text transform="translate(273.0,364.8) rotate(-90)" font-size="8.3" font-weight="bold" fill="#111">Cum Survival</text>
<text transform="translate(14.0,606.1) rotate(-90)" font-size="8.3" font-weight="bold" fill="#111">Cum Survival</text>
<text transform="translate(271.2,606.7) rotate(-90)" font-size="8.3" font-weight="bold" fill="#111">Cum Survival</text>
<text x="79.8" y="260.6" font-size="11.6" font-weight="bold" font-style="italic" fill="#111" letter-spacing="0.55">FLT3</text>
<text x="108.2" y="256.4" font-size="7.3" font-weight="bold" fill="#111">ITD</text>
<text x="120.6" y="260.6" font-size="11.6" font-weight="bold" font-style="italic" fill="#111">/</text>
<text x="125.4" y="260.6" font-size="11.6" font-weight="bold" font-style="italic" fill="#111">NPM1</text>
<text x="158.5" y="256.4" font-size="8" font-weight="bold" fill="#111">mut</text>
<text x="339.7" y="261.2" font-size="11.6" font-weight="bold" font-style="italic" fill="#111" letter-spacing="0.55">FLT3</text>
<text x="367.4" y="257.0" font-size="8" font-weight="bold" fill="#111">wt</text>
<text x="376.8" y="261.2" font-size="11.6" font-weight="bold" font-style="italic" fill="#111">/</text>
<text x="381.2" y="261.2" font-size="11.6" font-weight="bold" font-style="italic" fill="#111">NPM1</text>
<text x="413.5" y="257.0" font-size="8" font-weight="bold" fill="#111">mut</text>
<text x="79.8" y="504.0" font-size="11.6" font-weight="bold" font-style="italic" fill="#111" letter-spacing="0.55">FLT3</text>
<text x="108.2" y="499.8" font-size="8" font-weight="bold" fill="#111">wt</text>
<text x="117.1" y="504.0" font-size="11.6" font-weight="bold" font-style="italic" fill="#111">/</text>
<text x="120.6" y="504.0" font-size="11.6" font-weight="bold" font-style="italic" fill="#111">NPM1</text>
<text x="154.6" y="499.8" font-size="8" font-weight="bold" fill="#111">wt</text>
<text x="339.7" y="503.5" font-size="11.6" font-weight="bold" font-style="italic" fill="#111" letter-spacing="0.55">FLT3</text>
<text x="367.4" y="499.3" font-size="8" font-weight="bold" fill="#111">wt</text>
<text x="376.8" y="503.5" font-size="11.6" font-weight="bold" font-style="italic" fill="#111">/</text>
<text x="380.7" y="503.5" font-size="11.6" font-weight="bold" font-style="italic" fill="#111">NPM1</text>
<text x="414.1" y="499.3" font-size="8" font-weight="bold" fill="#111">wt</text>
</svg>
</body></html>
